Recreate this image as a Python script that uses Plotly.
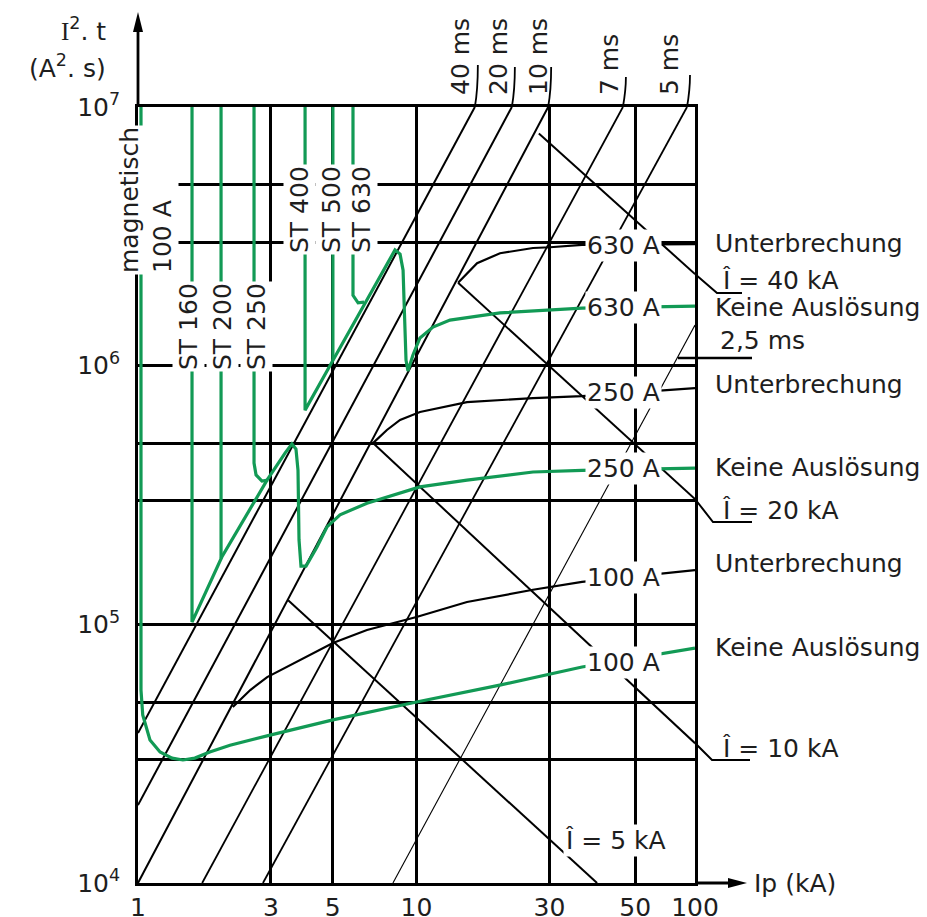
import math
import plotly.graph_objects as go

GREEN = "#129a55"
INK = "#1e1e1e"
FONT = "DejaVu Sans"
SIZE = 25

# axes: prospective current Ip (kA) and let-through I²t (A²s)
x_tick_text = ["1", "3", "5", "10", "30", "50", "100"]
x_tick_pos = [1, 3, 5, 10, 30, 61, 100]   # the source drawing puts its "50" line here
y_tick_vals = [1e4, 1e5, 1e6, 1e7]
y_tick_text = ["10<sup>4</sup>", "10<sup>5</sup>", "10<sup>6</sup>", "10<sup>7</sup>"]
y_minor = [3e4, 5e4, 3e5, 5e5, 3e6, 5e6]

# constant-duration lines (as drawn)
t_labels = ["40 ms", "20 ms", "10 ms", "7 ms", "5 ms", "2,5 ms"]
t_i = [[1, 16.2], [1, 22.0], [1, 29.7], [1.70, 55.1], [2.81, 93.6], [8.23, 100]]
t_i2t = [[3.8e4, 1e7], [2.0e4, 1e7], [1e4, 1e7], [1e4, 1e7], [1e4, 1e7], [1e4, 1.435e6]]
t_width = [2, 2, 2, 1.8, 1.8, 1.1]

# peak current lines
peak_labels = ["Î = 40 kA", "Î = 20 kA", "Î = 10 kA", "Î = 5 kA"]
peak_i = [[27.5, 100], [14.1, 100], [6.98, 100], [3.46, 44.5]]
peak_i2t = [[7.9e6, 2.26e6], [2.09e6, 3.05e5], [5.02e5, 3.47e4], [1.24e5, 1e4]]

# "Unterbrechung" curves (black)
cut630_i = [14.1, 16.5, 19.95, 26.2, 30.2, 39.3, 100]
cut630_v = [2.09e6, 2.49e6, 2.72e6, 2.85e6, 2.87e6, 2.93e6, 2.95e6]
cut250_i = [6.98, 7.83, 8.73, 10.29, 15.18, 26.2, 39.3, 100]
cut250_v = [5.02e5, 5.64e5, 6.17e5, 6.62e5, 7.23e5, 7.49e5, 7.63e5, 8.19e5]
cut100_i = [2.19, 2.53, 2.91, 3.82, 5.01, 6.64, 10.0, 15.18, 26.2, 39.3, 100]
cut100_v = [4.79e4, 5.57e4, 6.25e4, 7.28e4, 8.47e4, 9.51e4, 1.067e5, 1.22e5, 1.36e5, 1.46e5, 1.62e5]

# "Keine Auslösung" curves (green)
nt100_i = [1.025, 1.025, 1.04, 1.104, 1.20, 1.325, 1.45, 1.60, 1.81, 2.14, 2.98, 5.01, 10.0, 19.9, 39.3, 100]
nt100_v = [1e7, 5.57e4, 4.46e4, 3.57e4, 3.21e4, 3.04e4, 2.99e4, 3.04e4, 3.21e4, 3.41e4, 3.73e4,
           4.27e4, 5.01e4, 5.82e4, 6.84e4, 8.09e4]
nt250_i = [1.563, 1.563, 2.00, 2.906, 3.372, 3.57, 3.692, 3.754, 3.786, 3.848, 4.012, 4.392, 4.77,
           5.313, 6.64, 10.29, 15.18, 26.2, 39.3, 100]
nt250_v = [1e7, 1.02e5, 1.82e5, 3.61e5, 4.59e5, 4.98e5, 4.76e5, 3.94e5, 2.12e5, 1.68e5, 1.68e5,
           1.99e5, 2.38e5, 2.65e5, 2.94e5, 3.40e5, 3.61e5, 3.88e5, 3.94e5, 4.02e5]
nt630_i = [3.98, 3.98, 5.014, 6.64, 8.37, 8.73, 8.95, 9.02, 9.09, 9.17, 9.32, 9.71, 10.29, 11.46,
           13.19, 19.95, 39.3, 100]
nt630_v = [1e7, 6.73e5, 1.05e6, 1.79e6, 2.80e6, 2.70e6, 2.34e6, 1.79e6, 1.34e6, 1.05e6, 9.53e5,
           1.10e6, 1.28e6, 1.41e6, 1.50e6, 1.60e6, 1.67e6, 1.70e6]

# fuse verticals (green)
st200_i, st200_v = [1.987, 1.987], [1e7, 1.8e5]
st250_i, st250_v = [2.61, 2.61, 2.654, 2.787, 2.93], [1e7, 4.2e5, 3.78e5, 3.58e5, 3.61e5]
st500_i, st500_v = [5.01, 5.01], [1e7, 1.05e6]
st630_i, st630_v = [5.915, 5.915, 6.17, 6.48], [1e7, 1.87e6, 1.75e6, 1.76e6]

fig = go.Figure()


def line(xs, ys, color="black", width=2):
    fig.add_trace(go.Scatter(x=xs, y=ys, mode="lines", hoverinfo="skip",
                             line=dict(color=color, width=width)))


for xs, ys, w in zip(t_i, t_i2t, t_width):
    line(xs, ys, width=w)
for xs, ys in zip(peak_i, peak_i2t):
    line(xs, ys, width=2)
for xs, ys in [(cut630_i, cut630_v), (cut250_i, cut250_v), (cut100_i, cut100_v)]:
    line(xs, ys, width=2.2)
for xs, ys in [(nt100_i, nt100_v), (nt250_i, nt250_v), (nt630_i, nt630_v),
               (st200_i, st200_v), (st250_i, st250_v), (st500_i, st500_v), (st630_i, st630_v)]:
    line(xs, ys, color=GREEN, width=3.2)

# plot area in window pixels (the page body adds an 8 px offset)
L, R, T, B = 138, 695, 107, 883
OFF = 8


def px(x):
    return (x - L) / (R - L)


def py(y):
    return (B - y) / (B - T)


def data_px(i):
    return L + math.log10(i) / 2 * (R - L)


def note(text, x, y, xanchor="center", **kw):
    a = dict(text=text, x=px(x), y=py(y), xref="paper", yref="paper", showarrow=False,
             xanchor=xanchor, yanchor="middle",
             font=dict(family=FONT, size=SIZE, color=INK))
    a.update(kw)
    fig.add_annotation(**a)


def path(points, width=2.2, fill=None):
    d = "M " + " L ".join(f"{px(x):.5f},{py(y):.5f}" for x, y in points)
    if fill:
        d += " Z"
    fig.add_shape(type="path", path=d, xref="paper", yref="paper",
                  line=dict(color="black", width=width if not fill else 0),
                  fillcolor=fill if fill else None)


# axis arrows
path([(L, T), (L, 28)], width=2.8)
path([(133, 32), (143, 32), (L, 12)], fill="black")
path([(R, B), (730, B)], width=2.8)
path([(728, 878), (728, 888), (747, B)], fill="black")

# leaders above the time lines
for k, y_end in zip(range(5), [65, 67, 67, 77, 75]):
    xt = data_px(t_i[k][1])
    fig.add_shape(type="path", xref="paper", yref="paper",
                  path=f"M {px(xt):.5f},{py(T):.5f} Q {px(xt + 3):.5f},{py(90):.5f} {px(xt + 3):.5f},{py(y_end):.5f}",
                  line=dict(color="black", width=1.8))

# leaders to the peak-current labels and the 2,5 ms label
path([(R, 274), (717, 293), (742, 293)], width=2)
path([(R, 499), (713, 522), (752, 522)], width=2)
path([(R, 743), (712, 760), (750, 760)], width=2)
path([(678, 358), (752, 358)], width=2.4)

# time labels on top
for lab, x, y in zip(t_labels[:5], [460, 498, 538, 610, 670], [57, 57, 57, 65, 65]):
    note(lab, x, y, textangle=-90)

# fuse labels
for lab, x, y in [("ST 160", 188, 327), ("ST 200", 222, 327), ("ST 250", 256, 327),
                  ("ST 400", 300, 210), ("ST 500", 332, 210), ("ST 630", 362, 210)]:
    note(lab, x, y, textangle=-90, bgcolor="white", borderpad=1)
note("magnetisch<br>100 A", 146, 200, textangle=-90, align="left", bgcolor="white", borderpad=1)

# curve labels inside the grid
for lab, x, y in [("630 A", 623, 245), ("630 A", 623, 307), ("250 A", 623, 392),
                  ("250 A", 623, 468), ("100 A", 623, 577), ("100 A", 623, 662),
                  (peak_labels[3], 615, 840)]:
    note(lab, x, y, bgcolor="white", borderpad=1)

# right-hand legend texts
for lab, x, y in [("Unterbrechung", 713, 243), (peak_labels[0], 720, 280),
                  ("Keine Auslösung", 713, 307), (t_labels[5], 718, 340),
                  ("Unterbrechung", 713, 385), ("Keine Auslösung", 713, 467),
                  (peak_labels[1], 720, 511), ("Unterbrechung", 713, 563),
                  ("Keine Auslösung", 713, 647), (peak_labels[2], 720, 748)]:
    note(lab, x, y, xanchor="left")

# axis titles
note("<span style='font-family:Liberation Serif'>I</span><sup>2</sup>. t", 108, 30, xanchor="right")
note("(A<sup>2</sup>. s)", 108, 67, xanchor="right")
note("Ip (kA)", 752, B, xanchor="left")

fig.update_layout(
    width=927, height=917, autosize=False,
    margin=dict(l=L - OFF, r=927 - R + OFF, t=T - OFF, b=917 - B + OFF),
    plot_bgcolor="white", paper_bgcolor="white", showlegend=False,
    font=dict(family=FONT, size=SIZE, color=INK),
)
fig.update_xaxes(type="log", range=[0, 2], tickvals=x_tick_pos, ticktext=x_tick_text,
                 showgrid=True, gridcolor="black", gridwidth=2.8, ticks="",
                 showline=True, linecolor="black", linewidth=2.8, mirror=True,
                 ticklabelstandoff=0, zeroline=False, automargin=False)
fig.update_yaxes(type="log", range=[4, 7], tickvals=y_tick_vals, ticktext=y_tick_text,
                 showgrid=True, gridcolor="black", gridwidth=2.8, ticks="",
                 minor=dict(tickvals=y_minor, showgrid=True, gridcolor="black", gridwidth=2.8),
                 showline=True, linecolor="black", linewidth=2.8, mirror=True,
                 ticklabelstandoff=10, zeroline=False, automargin=False)

fig.write_html("out.html")
